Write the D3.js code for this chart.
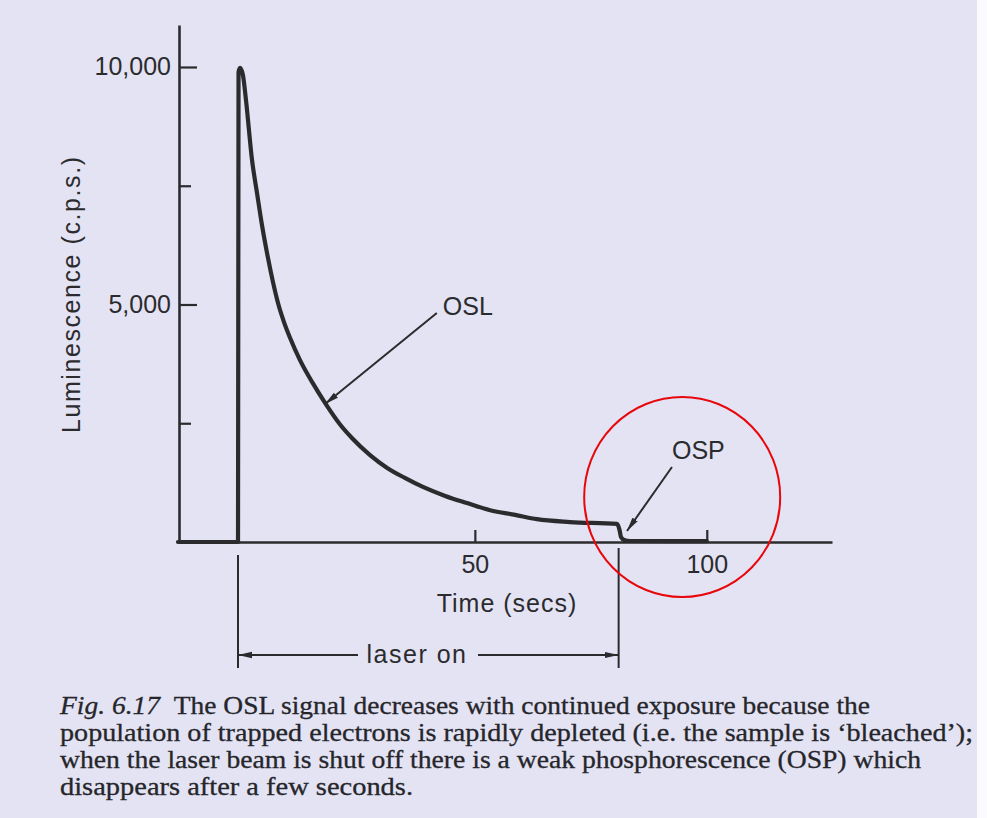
<!DOCTYPE html>
<html>
<head>
<meta charset="utf-8">
<script src="https://cdn.jsdelivr.net/npm/d3@7"></script>
<style>
  html, body { margin: 0; padding: 0; background: #e3e3f4; }
  svg { display: block; }
</style>
</head>
<body>
<svg id="chart" width="987" height="818"></svg>
<script>
// ---------- data ----------
const timeSecs = [-14, -1.06, -0.95, -0.63, 0.0, 0.66, 1.96, 3.03, 4.11, 5.4, 6.48, 7.56, 8.85, 10.15, 12.3, 14.9, 17.7, 20.9, 23.5, 27.4, 31.1, 34.9, 38.8, 43.6, 48.3, 53.3, 58.7, 63.4, 70.5, 80.65, 81.2, 81.5, 82.2, 83.5, 100];
const luminescence = [0, 0, 9890, 9980, 9830, 9300, 8040, 7350, 6670, 5980, 5470, 5030, 4630, 4300, 3830, 3370, 2930, 2480, 2190, 1830, 1560, 1350, 1160, 970, 820, 670, 570, 480, 420, 380, 250, 105, 42, 21, 20];

const xTickValues = [50, 100];
const yTickValues = [2500, 5000, 7500, 10000];
const yLabeledTicks = [5000, 10000];

const laserOn = [-1.06, 81.0];
const laserLabel = "laser on";

const annotationLabels = ["OSL", "OSP"];
const annotationLabelPos = [[43.1, 4968], [92.5, 1937]];
const annotationArrowFrom = [[41.8, 4821], [92.5, 1579]];
const annotationArrowTo = [[17.7, 2905], [82.8, 232]];

const highlightCenter = [94.7, 947];

const xTitle = "Time (secs)";
const yTitle = "Luminescence  (c.p.s.)";

const captionItalic = "Fig. 6.17";
const captionLines = [
  "The OSL signal decreases with continued exposure because the",
  "population of trapped electrons is rapidly depleted (i.e. the sample is \u2018bleached\u2019);",
  "when the laser beam is shut off there is a weak phosphorescence (OSP) which",
  "disappears after a few seconds."
];

// ---------- drawing ----------
const svg = d3.select("#chart");
const ink = "#2b2b2d";
const sans = "'Liberation Sans', Arial, sans-serif";
const serif = "'Liberation Serif', 'Times New Roman', serif";

svg.append("rect").attr("width", 987).attr("height", 818).attr("fill", "#e3e3f4");
svg.append("rect").attr("x", 977).attr("y", 0).attr("width", 10).attr("height", 818).attr("fill", "#fbfbfd");

const x = d3.scaleLinear().domain([-14, 127]).range([178, 832]);
const y = d3.scaleLinear().domain([0, 10884]).range([542, 25]);

const defs = svg.append("defs");
defs.append("marker")
  .attr("id", "ah").attr("viewBox", "0 0 14 8")
  .attr("refX", 14).attr("refY", 4)
  .attr("markerWidth", 14).attr("markerHeight", 8)
  .attr("markerUnits", "userSpaceOnUse")
  .attr("orient", "auto")
  .append("path").attr("d", "M0,0.8 L14,4 L0,7.2 Z").attr("fill", ink);

// x axis
const xAxis = d3.axisBottom(x).tickValues(xTickValues).tickSizeInner(-12).tickSizeOuter(0).tickPadding(13)
  .tickFormat(d3.format("d"));
const gx = svg.append("g").attr("transform", "translate(0,542)").call(xAxis);
gx.select(".domain").attr("stroke", ink).attr("stroke-width", 2.6);
gx.selectAll(".tick line").attr("stroke", ink).attr("stroke-width", 2.2);
gx.selectAll(".tick text").attr("fill", ink).style("font-family", sans).style("font-size", "25px");

// y axis
const yAxis = d3.axisLeft(y).tickValues(yTickValues).tickSizeInner(-18).tickSizeOuter(0).tickPadding(8)
  .tickFormat(d => yLabeledTicks.includes(d) ? d3.format(",")(d) : "");
const gy = svg.append("g").attr("transform", "translate(179,0)").call(yAxis);
gy.select(".domain").attr("stroke", ink).attr("stroke-width", 2.6);
gy.selectAll(".tick line").attr("stroke", ink).attr("stroke-width", 2.2)
  .attr("x2", d => yLabeledTicks.includes(d) ? 18 : 12);
gy.selectAll(".tick text").attr("fill", ink).style("font-family", sans).style("font-size", "25px");

// axis titles
svg.append("text").attr("x", 507).attr("y", 612).attr("text-anchor", "middle")
  .attr("fill", ink).style("font-family", sans).style("font-size", "25px").style("letter-spacing", "1px")
  .text(xTitle);
svg.append("text").attr("transform", "translate(80,295) rotate(-90)").attr("text-anchor", "middle")
  .attr("fill", ink).style("font-family", sans).style("font-size", "25px")
  .attr("textLength", 276).attr("lengthAdjust", "spacing")
  .text(yTitle);

// curve
const pts = timeSecs.map((t, i) => [t, luminescence[i]]);
svg.append("path").datum(pts)
  .attr("d", d3.line().x(d => x(d[0])).y(d => y(d[1])).curve(d3.curveMonotoneX))
  .attr("fill", "none").attr("stroke", ink).attr("stroke-width", 4.2)
  .attr("stroke-linejoin", "round").attr("stroke-linecap", "round");

// annotations
annotationLabels.forEach((lab, i) => {
  svg.append("line")
    .attr("x1", x(annotationArrowFrom[i][0])).attr("y1", y(annotationArrowFrom[i][1]))
    .attr("x2", x(annotationArrowTo[i][0])).attr("y2", y(annotationArrowTo[i][1]))
    .attr("stroke", ink).attr("stroke-width", 2).attr("marker-end", "url(#ah)");
  svg.append("text").attr("x", x(annotationLabelPos[i][0])).attr("y", y(annotationLabelPos[i][1]) + 9)
    .attr("fill", ink).style("font-family", sans).style("font-size", "25px")
    .text(lab);
});

// laser on bracket
const lx0 = x(laserOn[0]), lx1 = x(laserOn[1]);
svg.append("line").attr("x1", lx0).attr("x2", lx0).attr("y1", 555).attr("y2", 668).attr("stroke", ink).attr("stroke-width", 2);
svg.append("line").attr("x1", lx1).attr("x2", lx1).attr("y1", 548).attr("y2", 668).attr("stroke", ink).attr("stroke-width", 2);
svg.append("line").attr("x1", 358).attr("x2", lx0).attr("y1", 655).attr("y2", 655).attr("stroke", ink).attr("stroke-width", 2).attr("marker-end", "url(#ah)");
svg.append("line").attr("x1", 478).attr("x2", lx1).attr("y1", 655).attr("y2", 655).attr("stroke", ink).attr("stroke-width", 2).attr("marker-end", "url(#ah)");
svg.append("text").attr("x", 417).attr("y", 663).attr("text-anchor", "middle")
  .attr("fill", ink).style("font-family", sans).style("font-size", "25px").style("letter-spacing", "1.5px")
  .text(laserLabel);

// red highlight circle
svg.append("ellipse").attr("cx", x(highlightCenter[0])).attr("cy", y(highlightCenter[1]))
  .attr("rx", 98).attr("ry", 100).attr("fill", "none").attr("stroke", "#e8070b").attr("stroke-width", 2);

// caption
const capEnds = [870, 973, 921, 413];
const capG = svg.append("g").attr("fill", "#26262a").style("font-family", serif).style("font-size", "25px")
  .attr("stroke", "#26262a").attr("stroke-width", 0.3);
captionLines.forEach((line, i) => {
  const t = capG.append("text").attr("x", 60).attr("y", 714 + i * 27);
  if (i === 0) {
    t.append("tspan").style("font-style", "italic").text(captionItalic + "\u2002");
    t.append("tspan").text(line);
  } else {
    t.text(line);
  }
  t.attr("textLength", capEnds[i] - 60).attr("lengthAdjust", "spacingAndGlyphs");
});
</script>
</body>
</html>
